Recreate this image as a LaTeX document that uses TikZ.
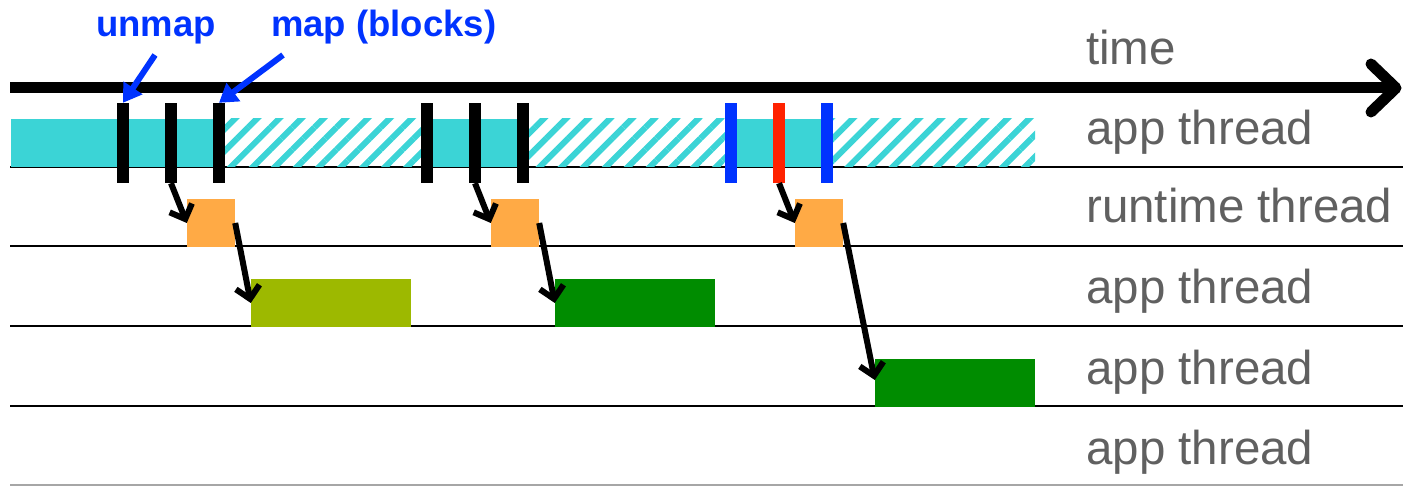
\documentclass[tikz,border=0pt]{standalone}
\usepackage{fontspec}
\setmainfont{Liberation Sans}
\usetikzlibrary{arrows.meta,patterns.meta,calc}
\definecolor{teal}{HTML}{3BD4D6}
\definecolor{taskorange}{HTML}{FFAA45}
\definecolor{olive}{HTML}{9DB900}
\definecolor{taskgreen}{HTML}{008C00}
\definecolor{mapblue}{HTML}{0033FF}
\definecolor{mapred}{HTML}{FF2200}
\definecolor{labelgray}{HTML}{606060}
\tikzset{
  rowlabel/.style={anchor=base west,inner sep=0pt,text=labelgray,
    font=\fontsize{47.5}{50}\selectfont},
  callout/.style={anchor=base west,inner sep=0pt,text=mapblue,
    font=\bfseries\fontsize{36.5}{40}\selectfont},
  bar/.style={fill=#1,draw=none,minimum width=12pt,minimum height=80pt,inner sep=0pt},
  task/.style={fill=#1,draw=none,minimum height=48pt,inner sep=0pt},
  rowline/.style={black,line width=2pt},
  flow/.style={black,line width=6pt,-{Straight Barb[length=12pt,width=24pt]}},
  pointer/.style={mapblue,line width=6pt,-{Triangle[length=18pt,width=22pt]}},
  hatch/.style={draw=none,pattern={Lines[angle=45,distance=15.6pt,line width=6pt]},pattern color=teal},
}
\begin{document}
\begin{tikzpicture}[x=1pt,y=-1pt]
\useasboundingbox (0,0) rectangle (1403,486);

% row separators
\foreach \y in {167,246,326,406} \draw[rowline] (10,\y) -- (1403,\y);
\draw[gray!70,line width=1.5pt] (10,485) -- (1403,485);

% app thread activity: solid = running, hatched = waiting on map
\fill[teal] (11,119) rectangle (219,167);
\fill[teal] (427,119) rectangle (523,167);
\fill[teal] (731,119) rectangle (827,167);
\path[hatch] (219,119) rectangle (427,167);
\path[hatch] (523,119) rectangle (731,167);
\path[hatch] (827,119) rectangle (1035,167);

% time axis
\draw[line width=11pt] (10,88) -- (1392,88);
\draw[line width=11pt,line cap=round,line join=round] (1371,64) -- (1396,88) -- (1371,112);

% unmap / map events
\node[bar=black] (b1) at (123,143) {};
\node[bar=black] (b2) at (171,143) {};
\node[bar=black] (b3) at (219,143) {};
\node[bar=black] (b4) at (427,143) {};
\node[bar=black] (b5) at (475,143) {};
\node[bar=black] (b6) at (523,143) {};
\node[bar=mapblue] (c1) at (731,143) {};
\node[bar=mapred] (c2) at (779,143) {};
\node[bar=mapblue] (c3) at (827,143) {};

% runtime thread work
\node[task=taskorange,minimum width=48pt] (o1) at (211,223) {};
\node[task=taskorange,minimum width=48pt] (o2) at (515,223) {};
\node[task=taskorange,minimum width=48pt] (o3) at (819,223) {};

% worker thread tasks
\node[task=olive,minimum width=160pt] (g1) at (331,303) {};
\node[task=taskgreen,minimum width=160pt] (g2) at (635,303) {};
\node[task=taskgreen,minimum width=160pt] (g3) at (955,383) {};

% hand-offs
\draw[flow] (b2.south) -- (o1.west);
\draw[flow] (o1.east) -- (g1.west);
\draw[flow] (b5.south) -- (o2.west);
\draw[flow] (o2.east) -- (g2.west);
\draw[flow] (c2.south) -- (o3.west);
\draw[flow] (o3.east) -- ($(g3.west)+(0,-3)$);

% callouts
\node[callout] (unmaplbl) at (96,37) {unmap};
\node[callout] (maplbl) at (271,37) {map (blocks)};
\coordinate (unmapfrom) at (155,55);
\coordinate (mapfrom) at (283,55);
\draw[pointer] (unmapfrom) -- (b1.north);
\draw[pointer] (mapfrom) -- (b3.north);

% row labels
\node[rowlabel] (ltime) at (1086,65) {time};
\node[rowlabel] (l1) at (1086,145) {app thread};
\node[rowlabel] (l2) at (1086,223) {runtime thread};
\node[rowlabel] (l3) at (1086,304) {app thread};
\node[rowlabel] (l4) at (1086,384) {app thread};
\node[rowlabel] (l5) at (1086,464) {app thread};
\end{tikzpicture}
\end{document}
